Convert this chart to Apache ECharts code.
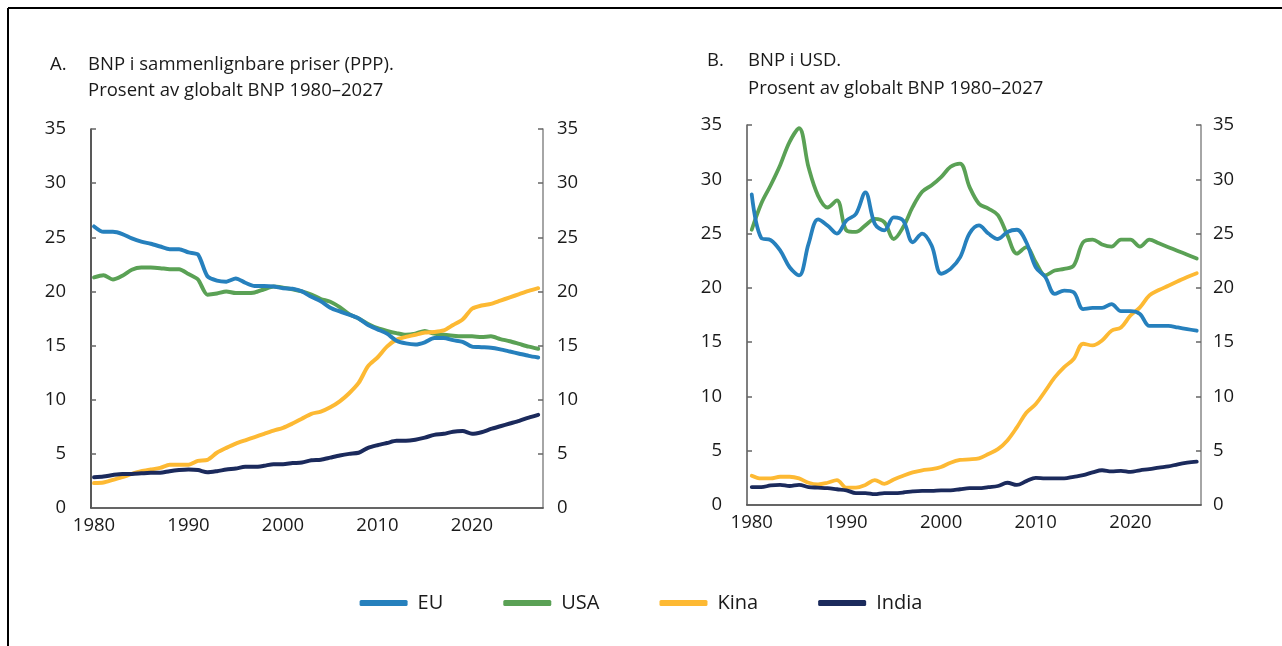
<!DOCTYPE html>
<html>
<head>
<meta charset="utf-8">
<script src="https://cdn.jsdelivr.net/npm/echarts@6/dist/echarts.min.js"></script>
<style>
html,body{margin:0;padding:0;background:#fff;}
#c{width:1282px;height:646px;}
</style>
</head>
<body>
<div id="c"></div>
<script>
// Years 1980–2027
const years = [];
for (let y = 1980; y <= 2027; y++) years.push(y);

const xTickLabels = [1980, 1990, 2000, 2010, 2020];
const yTickLabels = [0, 5, 10, 15, 20, 25, 30, 35];

// Panel A: PPP share of global GDP (%)
const pppEU = [26.0,25.5,25.5,25.3,24.9,24.6,24.4,24.15,23.9,23.9,23.6,23.4,21.4,21.0,20.9,21.2,20.8,20.5,20.5,20.45,20.3,20.25,20.0,19.5,
  19.1,18.5,18.15,17.85,17.5,16.9,16.5,16.1,15.45,15.2,15.1,15.3,15.7,15.7,15.5,15.35,14.9,14.85,14.8,14.65,14.45,14.25,14.05,13.9];
const pppUSA = [21.3,21.5,21.1,21.45,22.0,22.2,22.2,22.15,22.05,22.05,21.6,21.1,19.7,19.8,20.0,19.85,19.85,19.9,20.2,20.45,20.35,20.2,20.0,19.7,
  19.3,19.05,18.55,17.9,17.5,17.0,16.6,16.35,16.15,16.0,16.1,16.35,16.1,16.0,15.9,15.85,15.85,15.8,15.85,15.6,15.4,15.15,14.9,14.7];
const pppKina = [2.3,2.35,2.6,2.85,3.15,3.4,3.55,3.7,4.0,4.0,4.0,4.35,4.45,5.1,5.55,5.95,6.25,6.55,6.85,7.15,7.4,7.8,8.25,8.7,
  8.9,9.3,9.85,10.6,11.55,13.1,13.9,14.9,15.55,15.8,16.0,16.2,16.25,16.4,16.9,17.4,18.4,18.7,18.85,19.15,19.45,19.75,20.05,20.3];
const pppIndia = [2.85,2.9,3.05,3.15,3.15,3.2,3.25,3.25,3.4,3.5,3.55,3.5,3.3,3.4,3.55,3.65,3.8,3.8,3.9,4.05,4.05,4.15,4.2,4.4,
  4.45,4.65,4.85,5.0,5.1,5.55,5.8,6.0,6.2,6.2,6.3,6.5,6.75,6.85,7.05,7.1,6.85,7.0,7.3,7.55,7.8,8.05,8.35,8.6];

// Panel B: USD share of global GDP (%)
const usdEU = [28.6,24.6,24.4,23.45,21.9,21.15,24.05,26.3,25.75,25.0,26.2,26.8,28.8,25.9,25.3,26.5,26.2,24.2,25.0,23.9,21.3,21.75,22.8,25.0,
  25.75,25.0,24.5,25.15,25.35,24.2,21.9,21.0,19.45,19.75,19.6,18.05,18.15,18.15,18.5,17.85,17.85,17.6,16.5,16.5,16.5,16.35,16.2,16.05];
const usdUSA = [25.35,27.75,29.45,31.3,33.45,34.7,31.1,28.5,27.4,28.05,25.3,25.15,25.75,26.35,26.05,24.5,25.6,27.45,28.85,29.45,30.2,31.15,31.45,29.3,
  27.75,27.3,26.7,24.85,23.15,23.75,22.35,21.15,21.6,21.75,22.05,24.2,24.45,24.0,23.8,24.45,24.45,23.8,24.45,24.1,23.75,23.4,23.05,22.7];
const usdKina = [2.7,2.45,2.45,2.6,2.6,2.45,2.05,1.9,2.05,2.3,1.6,1.6,1.85,2.3,1.95,2.35,2.7,3.0,3.2,3.3,3.5,3.9,4.15,4.2,
  4.3,4.7,5.15,5.95,7.15,8.5,9.3,10.5,11.75,12.7,13.45,14.85,14.7,15.15,16.05,16.35,17.45,18.2,19.3,19.8,20.2,20.6,21.0,21.35];
const usdIndia = [1.65,1.65,1.8,1.85,1.75,1.85,1.65,1.6,1.55,1.45,1.35,1.1,1.1,1.0,1.1,1.1,1.15,1.25,1.3,1.3,1.35,1.35,1.45,1.55,
  1.55,1.65,1.75,2.05,1.85,2.2,2.5,2.45,2.45,2.45,2.6,2.75,3.0,3.2,3.1,3.15,3.05,3.2,3.3,3.45,3.55,3.75,3.9,4.0];

const names = ['EU', 'USA', 'Kina', 'India'];
const colors = ['#2680bd', '#5aa155', '#fdb933', '#1b2a5c'];

const FONT = 'Open Sans';
const FS = 18.5;
const pair = (arr) => years.map((y, i) => [y, arr[i]]);

function xAxis(gridIndex, min, max) {
  return {
    type: 'value', gridIndex, min, max,
    axisLine: {show: true, lineStyle: {color: '#333', width: 1.5}},
    axisTick: {show: false},
    splitLine: {show: false},
    axisLabel: {customValues: xTickLabels, color: '#1a1a1a', fontSize: FS, fontFamily: FONT, margin: 8,
      formatter: v => String(v)}
  };
}
function yAxis(gridIndex, position, margin, lineColor) {
  return {
    type: 'value', gridIndex, position, min: 0, max: 35, interval: 5,
    axisLine: {show: true, onZero: false, lineStyle: {color: lineColor, width: 1.5}},
    axisTick: {show: true, inside: true, length: 5, lineStyle: {color: '#666', width: 1.5}},
    splitLine: {show: false},
    axisLabel: {color: '#1a1a1a', fontSize: FS, fontFamily: FONT, margin}
  };
}

const series = [];
const panels = [
  {data: [pppEU, pppUSA, pppKina, pppIndia], grid: 0, w: 4, smooth: 0.25},
  {data: [usdEU, usdUSA, usdKina, usdIndia], grid: 1, w: 3.8, smooth: 0.35}
];
panels.forEach(p => {
  p.data.forEach((arr, k) => {
    series.push({
      name: names[k], type: 'line', xAxisIndex: p.grid, yAxisIndex: p.grid * 2,
      data: pair(arr), showSymbol: false, symbol: 'none', smooth: p.smooth,
      lineStyle: {color: colors[k], width: p.w, cap: 'round', join: 'round'},
      itemStyle: {color: colors[k]}, z: 2 + (k === 0 ? 1 : 0)
    });
  });
});
// dummy series to attach right y axes
[1, 3].forEach((yi, j) => {
  series.push({type: 'line', xAxisIndex: j, yAxisIndex: yi, data: [], silent: true});
});

const chart = echarts.init(document.getElementById('c'), null, {renderer: 'canvas'});
chart.setOption({
  backgroundColor: '#fff',
  animation: false,
  grid: [
    {left: 91, right: 1282 - 543, top: 129, bottom: 646 - 508, containLabel: false},
    {left: 747, right: 1282 - 1201, top: 125, bottom: 646 - 505, containLabel: false}
  ],
  xAxis: [xAxis(0, 1979.68, 2027.51), xAxis(1, 1979.5, 2027.45)],
  yAxis: [
    yAxis(0, 'left', 25, '#222'), yAxis(0, 'right', 14, '#888'),
    yAxis(1, 'left', 25, '#555'), yAxis(1, 'right', 12, '#888')
  ],
  legend: {
    data: names, left: 'center', top: 588, icon: 'roundRect',
    itemWidth: 48, itemHeight: 6, itemGap: 60,
    textStyle: {fontSize: 20, fontFamily: FONT, color: '#1a1a1a', padding: [0, 0, 0, 5]}
  },
  graphic: [
    {type: 'line', shape: {x1: 8, y1: 8, x2: 1282, y2: 8}, style: {stroke: '#000', lineWidth: 2}},
    {type: 'line', shape: {x1: 8, y1: 8, x2: 8, y2: 646}, style: {stroke: '#000', lineWidth: 2}},
    {type: 'text', left: 50, top: 55, style: {text: 'A.', fontSize: FS, fontFamily: FONT, fill: '#1a1a1a'}},
    {type: 'text', left: 88, top: 55, style: {text: 'BNP i sammenlignbare priser (PPP).', fontSize: FS, fontFamily: FONT, fill: '#1a1a1a'}},
    {type: 'text', left: 88, top: 81, style: {text: 'Prosent av globalt BNP 1980–2027', fontSize: FS, fontFamily: FONT, fill: '#1a1a1a'}},
    {type: 'text', left: 707, top: 51, style: {text: 'B.', fontSize: FS, fontFamily: FONT, fill: '#1a1a1a'}},
    {type: 'text', left: 748, top: 51, style: {text: 'BNP i USD.', fontSize: FS, fontFamily: FONT, fill: '#1a1a1a'}},
    {type: 'text', left: 748, top: 79, style: {text: 'Prosent av globalt BNP 1980–2027', fontSize: FS, fontFamily: FONT, fill: '#1a1a1a'}}
  ],
  series
});
</script>
</body>
</html>
